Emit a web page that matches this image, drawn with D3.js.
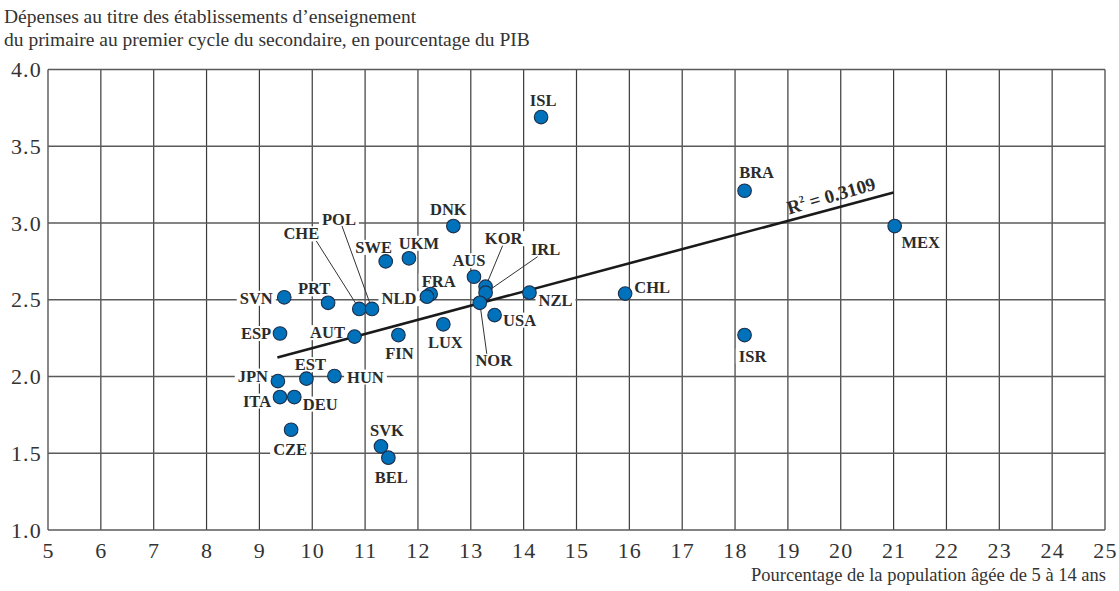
<!DOCTYPE html>
<html>
<head>
<meta charset="utf-8">
<script src="https://cdn.jsdelivr.net/npm/d3@7/dist/d3.min.js"></script>
<style>
  html, body { margin: 0; padding: 0; background: #fff; }
  svg { display: block; }
  text { font-family: "Liberation Serif", "DejaVu Serif", serif; }
  .tick-label { font-size: 22px; fill: #333; letter-spacing: 1.2px; }
  .axis-title { font-size: 18.5px; fill: #333; }
  .chart-title { font-size: 19.5px; fill: #333; }
  .pt-label { font-size: 16.5px; font-weight: bold; fill: #2b2b2b; }
</style>
</head>
<body>
<svg id="chart" width="1119" height="591"></svg>
<script>
// Country codes, share of population aged 5-14 (%), spending on primary to lower secondary (% of GDP)
const countries = ["ISL","BRA","MEX","CHL","ISR","DNK","SWE","UKM","AUS","KOR","IRL","NOR","NZL","USA","LUX","FRA","NLD","FIN","AUT","CHE","POL","PRT","SVN","ESP","JPN","EST","HUN","ITA","DEU","CZE","SVK","BEL"];
const popShare = [14.33,18.18,21.02,15.92,18.18,12.67,11.39,11.83,13.06,13.28,13.28,13.17,14.11,13.45,12.48,12.24,12.17,11.63,10.80,10.89,11.13,10.30,9.47,9.39,9.35,9.89,10.42,9.39,9.66,9.60,11.30,11.44];
const spending = [3.69,3.21,2.98,2.54,2.27,2.98,2.75,2.77,2.65,2.585,2.546,2.48,2.546,2.40,2.34,2.537,2.52,2.27,2.26,2.44,2.44,2.48,2.516,2.28,1.97,1.986,2.003,1.866,1.866,1.653,1.545,1.471];

// Axis ticks
const xTicks = d3.range(5, 26, 1);
const yTicks = [1.0, 1.5, 2.0, 2.5, 3.0, 3.5, 4.0];

// Linear fit
const trendSlope = 0.0921;
const trendIntercept = 1.264;
const trendRange = [9.34, 21.0];
const rSquared = "0.3109";

const titleLines = ["Dépenses au titre des établissements d\u2019enseignement",
                    "du primaire au premier cycle du secondaire, en pourcentage du PIB"];
const xTitle = "Pourcentage de la population âgée de 5 à 14 ans";

// Label placement (pixel offsets of label centre from its point; lead = leader start offset from label centre)
const labelPlacement = {
  ISL:{dx:2,dy:-17}, BRA:{dx:12,dy:-18}, MEX:{dx:26,dy:16}, CHL:{dx:27,dy:-6}, ISR:{dx:8,dy:21},
  DNK:{dx:-5,dy:-17}, SWE:{dx:-12,dy:-14}, UKM:{dx:10,dy:-15}, AUS:{dx:-5,dy:-16},
  KOR:{dx:18,dy:-48,lead:[-1,7]}, IRL:{dx:60,dy:-43,lead:[-8,7]}, NOR:{dx:14,dy:58,lead:[-7,-7]},
  NZL:{dx:26,dy:8}, USA:{dx:25,dy:5}, LUX:{dx:2,dy:18}, FRA:{dx:8,dy:-13}, NLD:{dx:-28,dy:2},
  FIN:{dx:1,dy:18}, AUT:{dx:-27,dy:-4}, CHE:{dx:-58,dy:-75,lead:[15,7]}, POL:{dx:-33,dy:-89,lead:[3,6]},
  PRT:{dx:-14,dy:-14}, SVN:{dx:-28,dy:1}, ESP:{dx:-24,dy:0}, JPN:{dx:-25,dy:-5}, EST:{dx:4,dy:-14},
  HUN:{dx:31,dy:1}, ITA:{dx:-23,dy:4}, DEU:{dx:26,dy:7}, CZE:{dx:-1,dy:20}, SVK:{dx:6,dy:-16}, BEL:{dx:3,dy:20}
};

const svg = d3.select("#chart");
const x = d3.scaleLinear().domain([5, 25]).range([48, 1105]);
const y = d3.scaleLinear().domain([1, 4]).range([530, 69.5]);

const points = countries.map((c, i) => ({ code: c, px: x(popShare[i]), py: y(spending[i]) }));

// Title
svg.append("g").selectAll("text").data(titleLines).join("text")
  .attr("class", "chart-title")
  .attr("x", 4).attr("y", (d, i) => 23 + i * 23)
  .text(d => d);

// Grid
const grid = svg.append("g");
grid.selectAll("line.v").data(xTicks).join("line")
  .attr("x1", d => x(d)).attr("x2", d => x(d))
  .attr("y1", y(4)).attr("y2", y(1))
  .attr("stroke", "#3a3a3a").attr("stroke-width", 1.2);
grid.selectAll("line.h").data(yTicks).join("line")
  .attr("x1", x(5)).attr("x2", x(25))
  .attr("y1", d => y(d)).attr("y2", d => y(d))
  .attr("stroke", "#5a5a5a").attr("stroke-width", 1.4);

// Axes labels
const xAxis = d3.axisBottom(x).tickValues(xTicks).tickSize(0).tickPadding(12).tickFormat(d3.format("d"));
const gx = svg.append("g").attr("transform", `translate(0,${y(1)})`).call(xAxis)
  .attr("font-family", null).attr("font-size", null);
gx.select(".domain").remove();
gx.selectAll("text").attr("class", "tick-label").attr("fill", null);

const yAxis = d3.axisLeft(y).tickValues(yTicks).tickSize(0).tickPadding(6).tickFormat(d3.format(".1f"));
const gy = svg.append("g").attr("transform", `translate(${x(5)},0)`).call(yAxis)
  .attr("font-family", null).attr("font-size", null);
gy.select(".domain").remove();
gy.selectAll("text").attr("class", "tick-label").attr("fill", null);

svg.append("text").attr("class", "axis-title")
  .attr("x", 1106).attr("y", 581).attr("text-anchor", "end").text(xTitle);

// Label layers: white backing boxes over the grid, leaders, then text above the points
const boxLayer = svg.append("g");
const leaderLayer = svg.append("g");
const trendLayer = svg.append("g");
const pointLayer = svg.append("g");
const textLayer = svg.append("g");

points.forEach(d => {
  const p = labelPlacement[d.code];
  const t = textLayer.append("text").attr("class", "pt-label")
    .attr("x", d.px + p.dx).attr("y", d.py + p.dy)
    .attr("text-anchor", "middle").attr("dominant-baseline", "central")
    .text(d.code);
  const b = t.node().getBBox();
  boxLayer.append("rect")
    .attr("x", b.x - 3).attr("y", b.y + 2).attr("width", b.width + 6).attr("height", b.height - 4)
    .attr("fill", "#fff");
  if (p.lead) {
    leaderLayer.append("line")
      .attr("x1", d.px + p.dx + p.lead[0]).attr("y1", d.py + p.dy + p.lead[1])
      .attr("x2", d.px).attr("y2", d.py)
      .attr("stroke", "#333").attr("stroke-width", 1);
  }
});

// Trend line
const tx0 = trendRange[0], tx1 = trendRange[1];
trendLayer.append("line")
  .attr("x1", x(tx0)).attr("y1", y(trendIntercept + trendSlope * tx0))
  .attr("x2", x(tx1)).attr("y2", y(trendIntercept + trendSlope * tx1))
  .attr("stroke", "#1a1a1a").attr("stroke-width", 2.6);

// R² annotation along the line
const rx = 19.85;
const angle = Math.atan2(y(trendIntercept + trendSlope * tx1) - y(trendIntercept + trendSlope * tx0),
                         x(tx1) - x(tx0)) * 180 / Math.PI;
const rt = trendLayer.append("text").attr("class", "pt-label")
  .style("font-size", "19px")
  .attr("text-anchor", "middle")
  .attr("transform", `translate(${x(rx)},${y(trendIntercept + trendSlope * rx) - 7}) rotate(${angle - 1})`);
rt.append("tspan").text("R");
rt.append("tspan").style("font-size", "10px").attr("dy", -8).text("2");
rt.append("tspan").attr("dy", 8).text(" = " + rSquared);

// Points
pointLayer.selectAll("circle").data(points).join("circle")
  .attr("cx", d => d.px).attr("cy", d => d.py).attr("r", 6.8)
  .attr("fill", "#0072bc").attr("stroke", "#1c2f4a").attr("stroke-width", 1.1);
</script>
</body>
</html>
